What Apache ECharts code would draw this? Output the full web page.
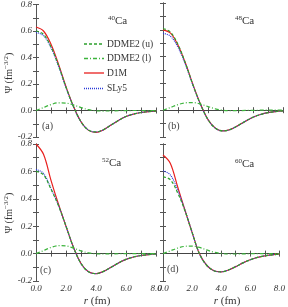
<!DOCTYPE html>
<html><head><meta charset="utf-8">
<script src="https://cdn.jsdelivr.net/npm/echarts@6/dist/echarts.min.js"></script>
<style>html,body{margin:0;padding:0;background:#fff}#c{width:288px;height:307px}</style>
</head><body><div id="c"></div>
<script>
// radial grid (fm)
var R = [0,0.5,1,1.5,2,2.5,3,3.5,4,4.5,5,5.5,6,6.5,7,7.5,8];
var seriesNames = ['DDME2 (u)','DDME2 (l)','D1M','SLy5'];
var nuclei = ['40','48','52','60'];
var panelLetters = ['(a)','(b)','(c)','(d)'];
var xTickLabels = ['0.0','2.0','4.0','6.0','8.0'];
var yTickLabels = ['-0.2','0.0','0.2','0.4','0.6','0.8'];

// 40Ca
var ca40_ddme2u = [0.60,0.575,0.48,0.34,0.175,0.03,-0.085,-0.148,-0.162,-0.145,-0.11,-0.075,-0.045,-0.027,-0.015,-0.008,-0.004];
var ca40_ddme2l = [0,0.022,0.045,0.058,0.056,0.042,0.022,0.006,-0.002,-0.004,-0.003,-0.002,-0.001,0,0,0,0];
var ca40_d1m    = [0.63,0.60,0.50,0.35,0.18,0.03,-0.085,-0.150,-0.165,-0.146,-0.11,-0.075,-0.045,-0.027,-0.015,-0.008,-0.004];
var ca40_sly5   = [0.59,0.565,0.475,0.335,0.172,0.028,-0.085,-0.148,-0.162,-0.145,-0.11,-0.075,-0.045,-0.027,-0.015,-0.008,-0.004];
// 48Ca
var ca48_ddme2u = [0.61,0.583,0.49,0.35,0.188,0.043,-0.07,-0.135,-0.155,-0.143,-0.115,-0.082,-0.053,-0.032,-0.018,-0.010,-0.005];
var ca48_ddme2l = [0,0.02,0.042,0.055,0.057,0.046,0.027,0.01,0,-0.003,-0.003,-0.002,-0.001,0,0,0,0];
var ca48_d1m    = [0.60,0.575,0.485,0.35,0.19,0.045,-0.07,-0.135,-0.155,-0.143,-0.115,-0.082,-0.053,-0.032,-0.018,-0.010,-0.005];
var ca48_sly5   = [0.575,0.552,0.47,0.34,0.185,0.043,-0.07,-0.135,-0.155,-0.143,-0.115,-0.082,-0.053,-0.032,-0.018,-0.010,-0.005];
// 52Ca
var ca52_ddme2u = [0.60,0.575,0.47,0.35,0.20,0.045,-0.072,-0.133,-0.146,-0.13,-0.10,-0.068,-0.042,-0.025,-0.014,-0.007,-0.003];
var ca52_ddme2l = [0,0.022,0.045,0.058,0.056,0.04,0.02,0.005,-0.002,-0.003,-0.002,-0.001,0,0,0,0,0];
var ca52_d1m    = [0.80,0.725,0.535,0.36,0.20,0.045,-0.072,-0.133,-0.147,-0.13,-0.10,-0.068,-0.042,-0.025,-0.014,-0.007,-0.003];
var ca52_sly5   = [0.615,0.585,0.475,0.352,0.20,0.045,-0.072,-0.133,-0.146,-0.13,-0.10,-0.068,-0.042,-0.025,-0.014,-0.007,-0.003];
// 60Ca
var ca60_ddme2u = [0.56,0.54,0.445,0.315,0.155,0.0,-0.085,-0.125,-0.133,-0.120,-0.095,-0.068,-0.045,-0.028,-0.016,-0.009,-0.004];
var ca60_ddme2l = [0,0.02,0.04,0.053,0.055,0.045,0.027,0.01,0.001,-0.003,-0.003,-0.002,-0.001,0,0,0,0];
var ca60_d1m    = [0.72,0.66,0.49,0.32,0.155,0.0,-0.085,-0.125,-0.133,-0.120,-0.095,-0.068,-0.045,-0.028,-0.016,-0.009,-0.004];
var ca60_sly5   = [0.605,0.575,0.465,0.32,0.155,0.0,-0.085,-0.125,-0.133,-0.120,-0.095,-0.068,-0.045,-0.028,-0.016,-0.009,-0.004];

var panels = [
  [ca40_ddme2u, ca40_ddme2l, ca40_d1m, ca40_sly5],
  [ca48_ddme2u, ca48_ddme2l, ca48_d1m, ca48_sly5],
  [ca52_ddme2u, ca52_ddme2l, ca52_d1m, ca52_sly5],
  [ca60_ddme2u, ca60_ddme2l, ca60_d1m, ca60_sly5]
];

var grids = [
  {left:36, top:3, width:120, height:134},
  {left:163, top:3, width:120, height:134},
  {left:36, top:144, width:120, height:137},
  {left:163, top:144, width:120, height:137}
];
var FONT = 'Liberation Serif';
var AX = '#555';
var styles = [
  {color:'#2ca02c', type:[3,2]},
  {color:'#3cb43c', type:[4,2,1,2]},
  {color:'#e8201e', type:'solid'},
  {color:'#2a3ad8', type:[1,1]}
];
var drawOrder = [2,3,0,1];

var xAxes = [], yAxes = [], series = [];
grids.forEach(function(g, i){
  var bottomRow = i >= 2, leftCol = (i % 2) === 0;
  var common = {axisLine:{show:true, lineStyle:{color:AX,width:1}},
    axisTick:{show:true, inside:true, length:3, lineStyle:{color:AX}},
    splitLine:{show:false}};
  xAxes.push(Object.assign({gridIndex:i, type:'value', min:0, max:8, interval:1, position:'bottom',
    axisLabel:{show:bottomRow, margin:3, fontFamily:FONT, fontStyle:'italic', fontSize:9, color:'#333',
      formatter:function(v){var k=Math.round(v); return k%2===0 ? xTickLabels[k/2] : '';}}}, common));
  xAxes.push(Object.assign({gridIndex:i, type:'value', min:0, max:8, interval:1, position:'top',
    axisLabel:{show:false}}, common));
  yAxes.push(Object.assign({gridIndex:i, type:'value', min:-0.2, max:0.8, interval:0.1, position:'left',
    axisLabel:{show:leftCol, margin:4, fontFamily:FONT, fontStyle:'italic', fontSize:9, color:'#333',
      showMaxLabel:true, showMinLabel:true,
      formatter:function(v){var k=Math.round(v*10); return (k%2===0) ? yTickLabels[(k+2)/2] : '';}}}, common));
  yAxes.push(Object.assign({gridIndex:i, type:'value', min:-0.2, max:0.8, interval:0.1, position:'right',
    axisLabel:{show:false}}, common));
  drawOrder.forEach(function(s, n){
    var vals = panels[i][s];
    var ser = {
      type:'line', name:seriesNames[s], xAxisIndex:2*i, yAxisIndex:2*i,
      data: R.map(function(r,j){return [r, vals[j]];}),
      smooth:0.35, showSymbol:false, symbol:'none', clip:true,
      lineStyle:{color:styles[s].color, width:1.2, type:styles[s].type},
      itemStyle:{color:styles[s].color}, z:3+n
    };
    if (n === 0) {
      ser.markLine = {silent:true, symbol:['none','none'], label:{show:false},
        lineStyle:{color:'#444', width:1, type:'solid'}, data:[{yAxis:0}], z:1};
    }
    series.push(ser);
  });
});

var graphics = [];
var nucPos = [[108,15],[235,15],[102,157],[235,158]];
var letterPos = [[42,121],[168,121],[40,265],[167,264]];
nuclei.forEach(function(A, i){
  graphics.push({type:'text', left:nucPos[i][0], top:nucPos[i][1], style:{
    text:'{s|'+A+'}{b|Ca}', rich:{s:{fontSize:7, fontFamily:FONT, fill:'#333', verticalAlign:'top', padding:[0,0,6,0]},
      b:{fontSize:11, fontFamily:FONT, fill:'#333'}}}});
  graphics.push({type:'text', left:letterPos[i][0], top:letterPos[i][1], style:{
    text:panelLetters[i], fontSize:10, fontFamily:FONT, fill:'#444'}});
});
[[9,73],[9,213]].forEach(function(p){
  graphics.push({type:'text', x:p[0], y:p[1], rotation:Math.PI/2, style:{
    text:'{a|Ψ (fm}{s|−3/2}{a|)}', align:'center', verticalAlign:'middle',
    rich:{a:{fontSize:10, fontFamily:FONT, fill:'#333'}, s:{fontSize:7, fontFamily:FONT, fill:'#333', padding:[0,0,6,0]}}}});
});
[[97,301],[227,301]].forEach(function(p){
  graphics.push({type:'text', x:p[0], y:p[1], style:{
    text:'{i|r}{a| (fm)}', align:'center', verticalAlign:'middle',
    rich:{i:{fontSize:11, fontFamily:FONT, fontStyle:'italic', fill:'#333'}, a:{fontSize:11, fontFamily:FONT, fill:'#333'}}}});
});
// legend (panel a)
var legendY = [44, 58.5, 73, 88.5];
seriesNames.forEach(function(nm, s){
  graphics.push({type:'line', shape:{x1:84, y1:legendY[s], x2:104, y2:legendY[s]},
    style:{stroke:styles[s].color, lineWidth:1.3, lineDash: styles[s].type==='solid' ? null : styles[s].type}, z:10});
  graphics.push({type:'text', x:107, y:legendY[s], style:{text:nm, fontSize:9.5, fontFamily:FONT, fill:'#333',
    verticalAlign:'middle'}, z:10});
});

var chart = echarts.init(document.getElementById('c'), null, {renderer:'canvas'});
chart.setOption({
  animation:false,
  grid:grids,
  xAxis:xAxes, yAxis:yAxes, series:series,
  graphic:graphics
});
</script></body></html>
